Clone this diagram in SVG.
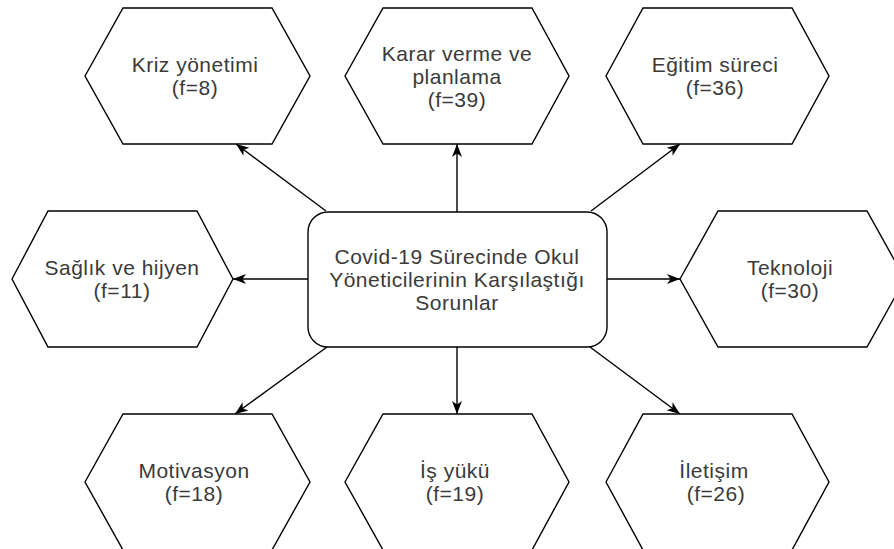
<svg xmlns="http://www.w3.org/2000/svg" width="894" height="549" viewBox="0 0 894 549">
<style>
.hex{fill:#fff;stroke:#000;stroke-width:1.4}
.box{fill:#fff;stroke:#000;stroke-width:1.4}
.t{font-family:"Liberation Sans",Arial,sans-serif;font-size:21px;letter-spacing:0.5px;fill:#3a3a3a;text-anchor:middle}
.c{stroke:#000;stroke-width:1.4;fill:none;marker-end:url(#ah)}
</style>
<defs>
<marker id="ah" markerUnits="userSpaceOnUse" markerWidth="13" markerHeight="12" viewBox="0 0 13 11" refX="13" refY="5.5" orient="auto">
<path d="M0,0.5 L13,5.5 L0,10.5 L3.5,5.5 Z" fill="#000"/>
</marker>
</defs>
<rect width="894" height="549" fill="#fff"/>
<g id="connectors">
<line class="c" x1="457" y1="212" x2="457" y2="144"/>
<line class="c" x1="326" y1="211" x2="236" y2="144"/>
<line class="c" x1="591" y1="211" x2="680" y2="144"/>
<line class="c" x1="308" y1="279" x2="233" y2="279"/>
<line class="c" x1="607" y1="279" x2="680" y2="279"/>
<line class="c" x1="327" y1="347" x2="235" y2="414"/>
<line class="c" x1="457" y1="347" x2="457" y2="414"/>
<line class="c" x1="590" y1="347" x2="680" y2="414"/>
</g>
<g id="center">
<rect class="box" x="308" y="212" width="299" height="135" rx="20" ry="20"/>
<text class="t" x="457" y="264">Covid-19 Sürecinde Okul</text>
<text class="t" x="457" y="287">Yöneticilerinin Karşılaştığı</text>
<text class="t" x="457" y="310">Sorunlar</text>
</g>
<g id="kriz">
<polygon class="hex" points="85,76 123,8 272,8 310,76 272,144 123,144"/>
<text class="t" x="195" y="72">Kriz yönetimi</text>
<text class="t" x="195" y="95">(f=8)</text>
</g>
<g id="karar">
<polygon class="hex" points="345,76 383,8 532,8 569,76 532,144 383,144"/>
<text class="t" x="457" y="61">Karar verme ve</text>
<text class="t" x="457" y="84">planlama</text>
<text class="t" x="457" y="107">(f=39)</text>
</g>
<g id="egitim">
<polygon class="hex" points="606,76 643,8 792,8 829,76 792,144 643,144"/>
<text class="t" x="715" y="72">Eğitim süreci</text>
<text class="t" x="715" y="95">(f=36)</text>
</g>
<g id="saglik">
<polygon class="hex" points="12,279 48,211 197,211 233,279 197,347 48,347"/>
<text class="t" x="122" y="275">Sağlık ve hijyen</text>
<text class="t" x="122" y="298">(f=11)</text>
</g>
<g id="teknoloji">
<polygon class="hex" points="680,279 718,211 867,211 905,279 867,347 718,347"/>
<text class="t" x="790" y="275">Teknoloji</text>
<text class="t" x="790" y="298">(f=30)</text>
</g>
<g id="motivasyon">
<polygon class="hex" points="85,482 123,414 272,414 310,482 272,550 123,550"/>
<text class="t" x="194" y="478">Motivasyon</text>
<text class="t" x="194" y="501">(f=18)</text>
</g>
<g id="isyuku">
<polygon class="hex" points="345,482 383,414 532,414 569,482 532,550 383,550"/>
<text class="t" x="455" y="478">İş yükü</text>
<text class="t" x="455" y="501">(f=19)</text>
</g>
<g id="iletisim">
<polygon class="hex" points="606,482 643,414 792,414 829,482 792,550 643,550"/>
<text class="t" x="714" y="478">İletişim</text>
<text class="t" x="716" y="501">(f=26)</text>
</g>
</svg>
